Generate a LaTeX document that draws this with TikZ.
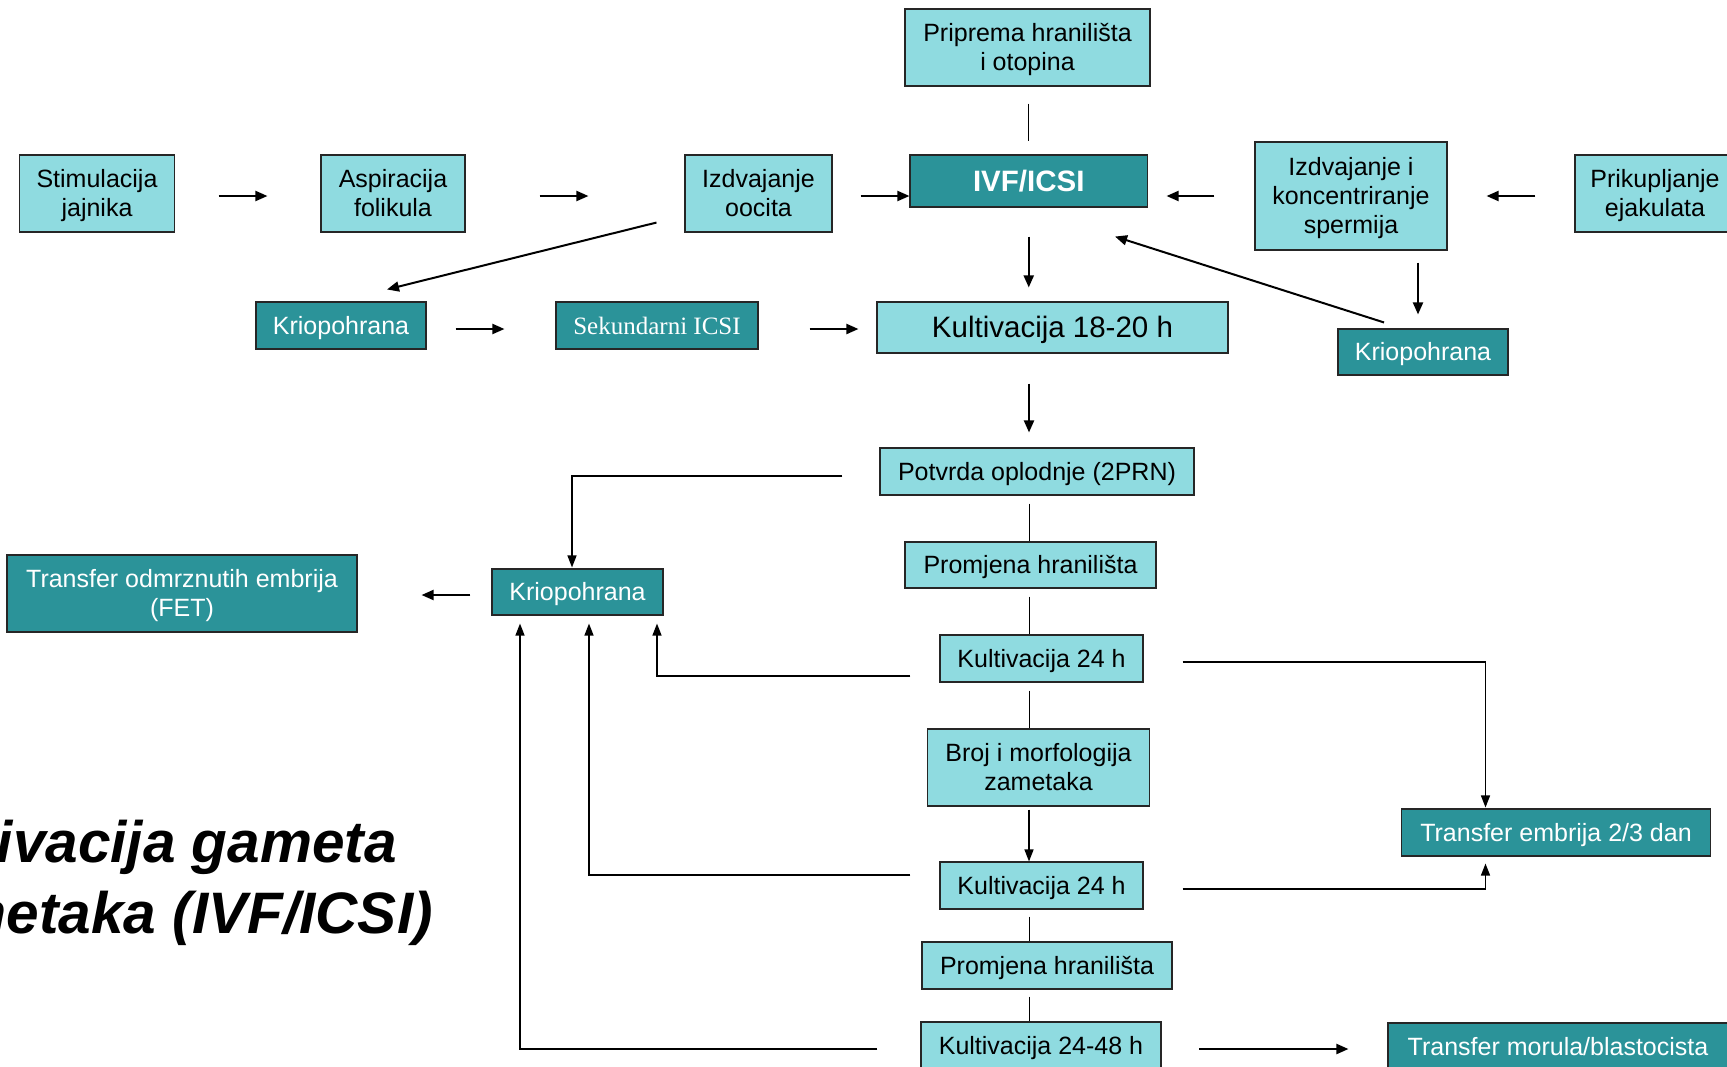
\documentclass[tikz,border=0pt]{standalone}
\usepackage{fontspec}
\setmainfont{Liberation Sans}
\newfontfamily\serifx{Liberation Serif}
\usetikzlibrary{arrows.meta,calc}
\definecolor{lightc}{RGB}{143,219,224}
\definecolor{darkc}{RGB}{43,147,153}
\newcommand\fbody{\fontsize{25}{29}\selectfont}
\newcommand\fbig{\fontsize{29.5}{34}\selectfont}
\newcommand\ftitle{\fontsize{58.5}{70}\selectfont\bfseries\itshape}
\newcommand\ps{\rule[-0.212em]{0pt}{1.117em}}
\begin{document}
\begin{tikzpicture}[x=1pt,y=-1pt,
  box/.style={draw=black!85, line width=1.1pt, inner sep=0pt, align=center, font=\fbody},
  lbox/.style={box, fill=lightc, text=black},
  dbox/.style={box, fill=darkc, text=white},
  arr/.style={line width=2pt, -{Triangle[length=12pt,width=10pt]}},
  conn/.style={line width=1.4pt, -{Triangle[length=12pt,width=9pt]}},
  plain/.style={line width=1pt},
  titletext/.style={anchor=base east, inner sep=0pt, font=\ftitle},
]
\useasboundingbox (0,0) rectangle (1727,1066);
\clip (0,0) rectangle (1727,1066);
\fill[white] (0,0) rectangle (1727,1066);

% title (cut off at the left edge)
\node[titletext] (t1) at (397,862) {Kultivacija gameta};
\node[titletext] (t2) at (433,933) {i zametaka (IVF/ICSI)};

% row 1
\node[lbox, minimum width=155pt, minimum height=77pt] (stim) at (97,193.5) {\ps Stimulacija\\\ps jajnika};
\node[lbox, minimum width=144pt, minimum height=77pt] (asp) at (393,193.5) {\ps Aspiracija\\\ps folikula};
\node[lbox, minimum width=147pt, minimum height=77pt] (izd) at (758.5,193.5) {\ps Izdvajanje\\\ps oocita};
\node[lbox, minimum width=245pt, minimum height=77pt] (prip) at (1027.5,47.5) {\ps Priprema hranilišta\\\ps i otopina};
\node[dbox, minimum width=237.5pt, minimum height=52pt, font=\fbig\bfseries] (ivf) at (1028.75,181) {\ps IVF/ICSI};
\node[lbox, minimum width=192pt, minimum height=108pt] (izdk) at (1351,196) {\ps Izdvajanje i\\\ps koncentriranje\\\ps spermija};
\node[lbox, minimum width=160pt, minimum height=77pt] (prik) at (1655,193.5) {\ps Prikupljanje\\\ps ejakulata};

% row 2
\node[dbox, minimum width=170pt, minimum height=47pt] (krioL) at (341,325.5) {\ps Kriopohrana};
\node[dbox, minimum width=202pt, minimum height=47pt, font=\fbody\serifx] (sek) at (657,325.5) {\ps Sekundarni ICSI};
\node[lbox, minimum width=351pt, minimum height=51pt, font=\fbig] (kult) at (1052.5,327.5) {\ps Kultivacija 18-20 h};
\node[dbox, minimum width=170pt, minimum height=46pt] (krioR) at (1423,352) {\ps Kriopohrana};

% column
\node[lbox, minimum width=314pt, minimum height=47pt] (potvrda) at (1037,471.5) {\ps Potvrda oplodnje (2PRN)};
\node[lbox, minimum width=251pt, minimum height=46pt] (prom1) at (1030.5,565) {\ps Promjena hranilišta};
\node[lbox, minimum width=203pt, minimum height=47pt] (kult24a) at (1041.5,658.5) {\ps Kultivacija 24 h};
\node[lbox, minimum width=222pt, minimum height=77pt] (broj) at (1038.5,767.5) {\ps Broj i morfologija\\\ps zametaka};
\node[lbox, minimum width=203pt, minimum height=47pt] (kult24b) at (1041.5,885.5) {\ps Kultivacija 24 h};
\node[lbox, minimum width=250pt, minimum height=47pt] (prom2) at (1047,965.5) {\ps Promjena hranilišta};
\node[lbox, minimum width=240pt, minimum height=47pt] (kult2448) at (1041,1045.5) {\ps Kultivacija 24-48 h};

% left and right
\node[dbox, minimum width=171pt, minimum height=46pt] (krioM) at (577.5,592) {\ps Kriopohrana};
\node[dbox, minimum width=350pt, minimum height=77pt] (fet) at (182,593.5) {\ps Transfer odmrznutih embrija\\\ps (FET)};
\node[dbox, minimum width=309pt, minimum height=47pt] (transemb) at (1556,832.5) {\ps Transfer embrija 2/3 dan};
\node[dbox, minimum width=340pt, minimum height=47pt] (transmor) at (1558,1046.5) {\ps Transfer morula/blastocista};

% row 1 arrows
\draw[arr, shorten <=43.5pt, shorten >=53pt] ($(stim.east)+(0,2.5)$) -- ($(asp.west)+(0,2.5)$);
\draw[arr, shorten <=74pt, shorten >=96pt] ($(asp.east)+(0,2.5)$) -- ($(izd.west)+(0,2.5)$);
\draw[arr, shorten <=28pt] ($(izd.east)+(0,2.5)$) -- ($(ivf.west)+(0,15)$);
\draw[arr, shorten <=40pt, shorten >=18.5pt] (izdk.west) -- ($(ivf.east)+(0,15)$);
\draw[arr, shorten <=39pt, shorten >=39pt] ($(prik.west)+(0,2.5)$) -- (izdk.east);
\draw[plain, shorten <=17pt, shorten >=13pt] (ivf.north |- prip.south) -- (ivf.north);
\draw[arr, shorten <=29pt, shorten >=14pt] (ivf.south) -- (ivf.south |- kult.north);

% diagonals
\draw[arr] ($(izd.south west)+(-28,-10)$) -- ($(krioL.north)+(46,-12)$);
\draw[arr] ($(krioR.north)+(-39,-6)$) -- ($(ivf.south east)+(-33,29)$);
\draw[arr] ($(izdk.south)+(67,12)$) -- ($(krioR.north)+(-5,-14)$);

% row 2 arrows
\draw[arr, shorten <=29pt, shorten >=51pt] ($(krioL.east)+(0,3.5)$) -- ($(sek.west)+(0,3.5)$);
\draw[arr, shorten <=51pt, shorten >=18pt] ($(sek.east)+(0,3.5)$) -- ($(kult.west)+(0,1.5)$);

% column
\draw[arr] ($(kult.south)+(-23.5,30)$) -- ($(potvrda.north)+(-8,-15)$);
\draw[plain] ($(potvrda.south)+(-8,8)$) -- ($(prom1.north)+(-1.5,0)$);
\draw[plain] ($(prom1.south)+(-1.5,8)$) -- ($(kult24a.north)+(-12.5,0)$);
\draw[plain] ($(kult24a.south)+(-12.5,8)$) -- ($(broj.north)+(-9.5,0)$);
\draw[conn] ($(broj.south)+(-9.5,3)$) -- ($(kult24b.north)+(-12.5,0)$);
\draw[plain] ($(kult24b.south)+(-12.5,7)$) -- ($(prom2.north)+(-18,0)$);
\draw[plain] ($(prom2.south)+(-18,7)$) -- ($(kult2448.north)+(-12,0)$);

% to Kriopohrana (middle)
\draw[conn] ($(potvrda.west)+(-37,4.5)$) -| ($(krioM.north)+(-5.5,-1)$);
\draw[conn] ($(kult24a.west)+(-29,17.5)$) -| ($(krioM.south)+(79.5,8)$);
\draw[conn] ($(kult24b.west)+(-29,-10.5)$) -| ($(krioM.south)+(11.5,8)$);
\draw[conn] ($(kult2448.west)+(-43,3.5)$) -| ($(krioM.south)+(-57.5,8)$);
\draw[arr, shorten <=21pt, shorten >=64pt] ($(krioM.west)+(0,3)$) -- ($(fet.east)+(0,1.5)$);

% transfers
\draw[conn] ($(kult24a.east)+(39,3.5)$) -| ($(transemb.north)+(-70.5,-1)$);
\draw[conn] ($(kult24b.east)+(39,3.5)$) -| ($(transemb.south)+(-70.5,7)$);
\draw[arr, shorten <=37.5pt, shorten >=39pt] ($(kult2448.east)+(0,3.5)$) -- ($(transmor.west)+(0,2.5)$);
\end{tikzpicture}
\end{document}
